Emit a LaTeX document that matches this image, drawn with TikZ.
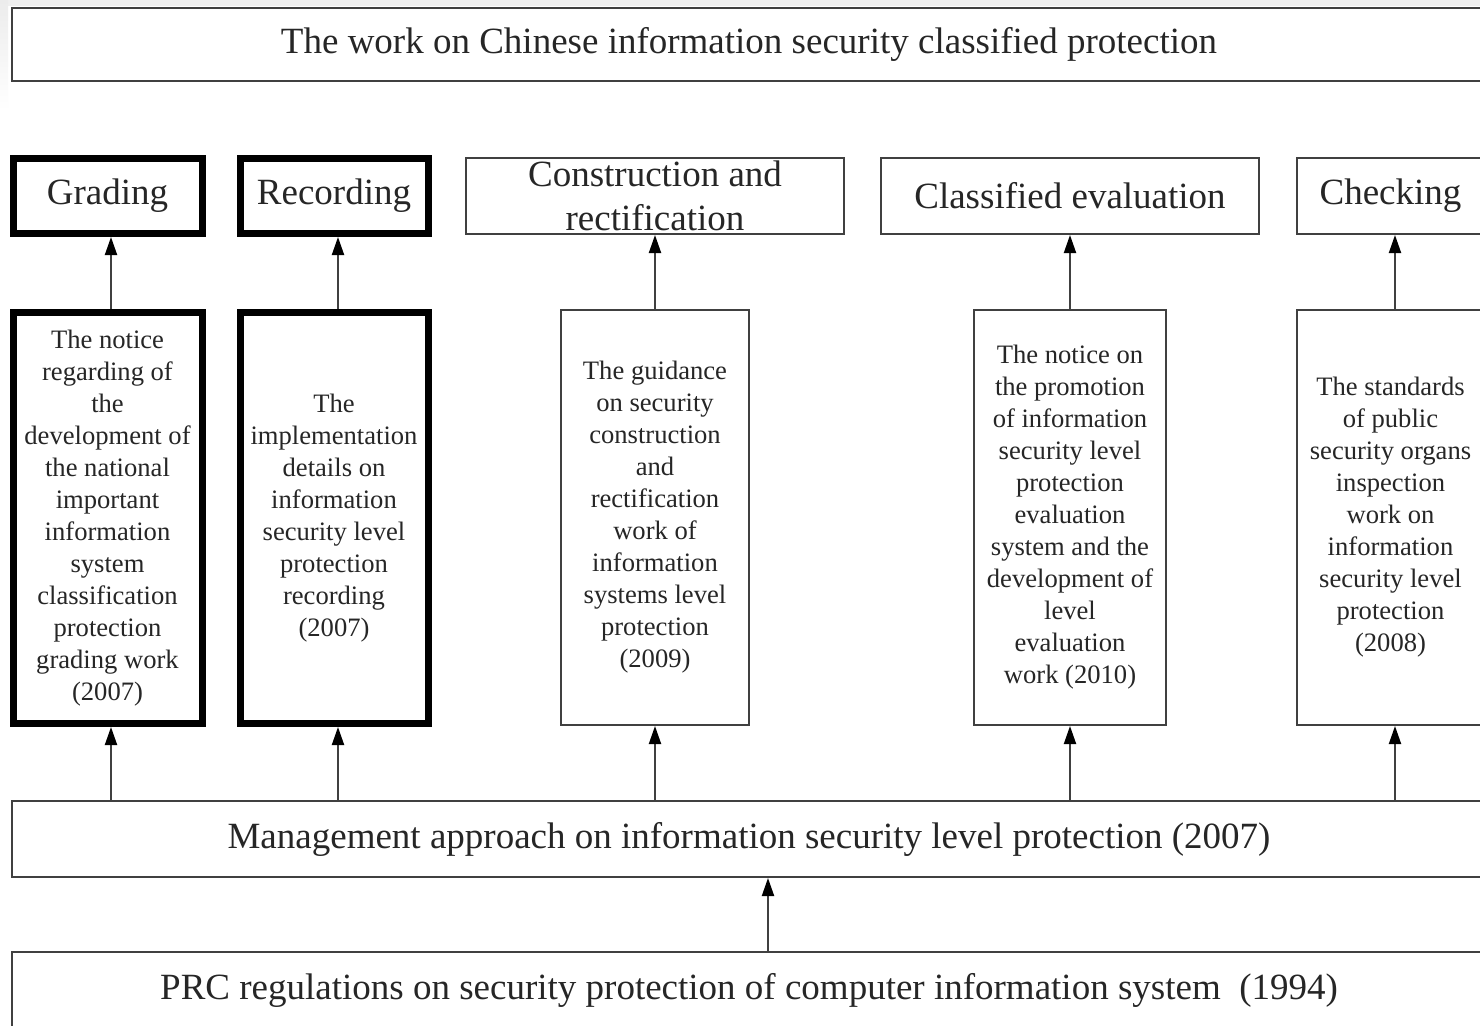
\documentclass[tikz,border=0pt]{standalone}
\usepackage{fontspec}
\setmainfont{Liberation Serif}
\usetikzlibrary{arrows.meta}
\begin{document}
\begin{tikzpicture}[x=0.5pt,y=-0.5pt,
 box/.style={rectangle, inner sep=0pt, text=black!85, align=center},
 thinbox/.style={box, draw=black!75, line width=1pt},
 thickbox/.style={box, draw=black, line width=3.5pt},
 big/.style={font=\fontsize{18.5}{22}\selectfont},
 small/.style={font=\fontsize{13.3}{16}\selectfont},
 arr/.style={draw=black!75, line width=1pt, -{Triangle[length=9pt,width=6pt,color=black]}}
]
\useasboundingbox (0,0) rectangle (1480,1025);
\fill[white] (0,0) rectangle (1480,1025);
\fill[gray!12] (0,0) rectangle (1480,6);
\shade[top color=gray!15,bottom color=white] (0,0) rectangle (8,110);

% top
\node[thinbox,big,minimum width=737pt,minimum height=36.5pt] (top) at (749,44.5)
  {The work on Chinese information security classified protection};

% category boxes
\node[thickbox,big,minimum width=94.5pt,minimum height=37.75pt] (g) at (107.5,195.75) {Grading};
\node[thickbox,big,minimum width=94pt,minimum height=37.75pt] (r) at (334,195.75) {Recording};
\node[thinbox,big,minimum width=189pt,minimum height=38pt] (c) at (655,196) {Construction and\\rectification};
\node[thinbox,big,minimum width=189pt,minimum height=38pt] (e) at (1070,196) {Classified evaluation};
\node[thinbox,big,minimum width=93.5pt,minimum height=38pt] (k) at (1390.5,196) {Checking};

% document boxes
\node[thickbox,small,minimum width=94.5pt,minimum height=205.5pt] (gn) at (107.5,518)
  {The notice\\regarding of\\the\\development of\\the national\\important\\information\\system\\classification\\protection\\grading work\\(2007)};
\node[thickbox,small,minimum width=94pt,minimum height=205.5pt] (rn) at (334,518)
  {The\\implementation\\details on\\information\\security level\\protection\\recording\\(2007)};
\node[thinbox,small,minimum width=94pt,minimum height=207.5pt] (cn) at (655,517.5)
  {The guidance\\on security\\construction\\and\\rectification\\work of\\information\\systems level\\protection\\(2009)};
\node[thinbox,small,minimum width=96pt,minimum height=207.5pt] (en) at (1070,517.5)
  {The notice on\\the promotion\\of information\\security level\\protection\\evaluation\\system and the\\development of\\level\\evaluation\\work (2010)};
\node[thinbox,small,minimum width=93.5pt,minimum height=207.5pt] (kn) at (1390.5,517.5)
  {The standards\\of public\\security organs\\inspection\\work on\\information\\security level\\protection\\(2008)};

% base boxes
\node[thinbox,big,minimum width=737pt,minimum height=38pt] (m) at (749,839)
  {Management approach on information security level protection (2007)};
\node[thinbox,big,minimum width=737pt,minimum height=38pt] (p) at (749,990)
  {PRC regulations on security protection of computer information system\ \ (1994)};

% arrows
\foreach \a/\b/\s in {gn/g/1.75pt, rn/r/2pt, cn/c/0pt, en/e/0pt, kn/k/2.25pt}{
  \coordinate (\a-top) at ([xshift=\s]\a.north);
  \coordinate (\a-bot) at ([xshift=\s]\a.south);
  \draw[arr] (\a-top) -- (\a-top |- \b.south);
  \draw[arr] (\a-bot |- m.north) -- (\a-bot);
}
\draw[arr] ([xshift=9.5pt]p.north) -- ([xshift=9.5pt]m.south);
\end{tikzpicture}
\end{document}
